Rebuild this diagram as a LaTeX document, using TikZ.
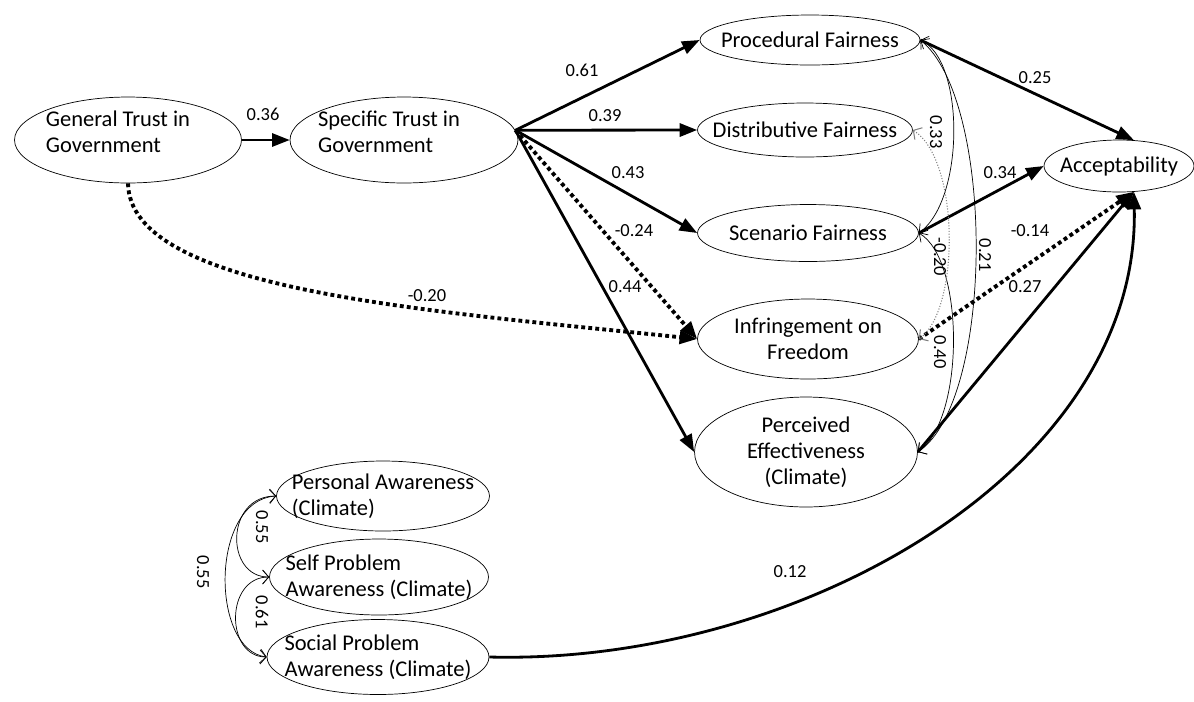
\documentclass[tikz,border=0pt]{standalone}
\usepackage{fontspec}
\setmainfont{Carlito}
\usetikzlibrary{shapes.geometric,arrows.meta}

\begin{document}
\begin{tikzpicture}[x=0.02cm, y=-0.02cm,
    vtext/.style={font=\fontsize{12.8}{14.8}\selectfont},
    var/.style={draw, ellipse, thin, inner sep=-1.5cm, vtext},
    coef/.style={font=\fontsize{10.5}{12}\selectfont},
    effect/.style={line width=1.6pt, -{Triangle[length=10pt,width=7.5pt]}},
    effdot/.style={effect, line width=2.2pt, dash pattern=on 2.2pt off 1.8pt},
    cov/.style={thin, {Straight Barb[length=3.5pt,width=8pt]}-{Straight Barb[length=3.5pt,width=8pt]}}]
    \useasboundingbox (0,0) rectangle (1194,701);

    % Trust
    \node[var, minimum width=4.54cm, minimum height=1.72cm,
        label={[vtext, align=left, xshift=-0.2cm, yshift=0.17cm]center:General Trust in\\Government}] (gt) at (128,140) {};
    \node[var, minimum width=4.56cm, minimum height=1.72cm,
        label={[vtext, align=left, xshift=-0.3cm, yshift=0.17cm]center:Specific Trust in\\Government}] (st) at (404,140) {};

    % Mediators
    \node[var, minimum width=4.4cm, minimum height=1cm] (proc) at (810,40) {Procedural Fairness};
    \node[var, minimum width=4.3cm, minimum height=1.08cm] (dist) at (805,130) {Distributive Fairness};
    \node[var, minimum width=4.42cm, minimum height=1.14cm] (scen) at (808,233) {Scenario Fairness};
    \node[var, minimum width=4.42cm, minimum height=1.6cm, align=center] (infr) at (808,339) {Infringement on\\Freedom};
    \node[var, minimum width=4.46cm, minimum height=2.2cm, align=center] (perc) at (806,452) {Perceived\\Effectiveness\\(Climate)};
    \node[var, minimum width=3cm, minimum height=1.04cm] (acc) at (1119,166) {Acceptability};

    % Awareness
    \node[var, minimum width=4.26cm, minimum height=1.4cm, align=left] (pers) at (383,496) {Personal Awareness\\(Climate)};
    \node[var, minimum width=4.38cm, minimum height=1.52cm, align=left] (self) at (379,577) {Self Problem\\Awareness (Climate)};
    \node[var, minimum width=4.44cm, minimum height=1.5cm, align=left] (soc) at (378,657) {Social Problem\\Awareness (Climate)};

    % Paths
    \draw[effect, line width=1.3pt] (gt) -- (st);
    \node[coef] at (263,114) {0.36};
    \foreach \to/\val/\lx/\ly in {proc/0.61/582/70, dist/0.39/605/116, scen/0.43/628/173, perc/0.44/625/287} {
        \draw[effect] (st.5) -- (\to.west);
        \node[coef] at (\lx,\ly) {\val};
    }
    \draw[effdot] (st.5) -- (infr.west);
    \node[coef] at (634,231) {-0.24};
    \draw[effdot] (gt.south) .. controls (130,290) and (420,310) .. (infr.west);
    \node[coef] at (427,296) {-0.20};

    \draw[effect] (proc.east) -- (acc.60);
    \node[coef] at (1035,78) {0.25};
    \draw[effect] (scen.east) -- (acc.west);
    \node[coef] at (1000,173) {0.34};
    \draw[effdot] (infr.east) -- (acc.-60);
    \node[coef] at (1030,231) {-0.14};
    \draw[effect] (perc.east) -- (acc.-60);
    \node[coef] at (1025,287) {0.27};
    \draw[effect] (soc.east) .. controls (800,665) and (1140,470) .. (acc.-60);
    \node[coef] at (790,572) {0.12};

    % Correlations
    \draw[cov] (proc.east) .. controls (965,60) and (965,200) .. (scen.east);
    \draw[cov] (proc.east) .. controls (995,100) and (995,400) .. (perc.east);
    \draw[cov] (scen.east) .. controls (965,260) and (965,420) .. (perc.east);
    \draw[cov, line width=0.6pt, densely dotted, gray] (dist.east) .. controls (960,160) and (960,310) .. (infr.east);
    \foreach \val/\lx/\ly in {0.33/936/132, -0.20/940/257, 0.21/985/255, 0.40/940/352} {
        \node[coef, rotate=-90] at (\lx,\ly) {\val};
    }

    \draw[cov] (pers.west) .. controls (225,496) and (225,577) .. (self.west);
    \draw[cov] (self.west) .. controls (225,577) and (225,657) .. (soc.west);
    \draw[cov] (pers.west) .. controls (210,500) and (210,650) .. (soc.west);
    \node[coef, rotate=-90] at (262,527) {0.55};
    \node[coef, rotate=-90] at (262,612) {0.61};
    \node[coef, rotate=-90] at (203,572) {0.55};
\end{tikzpicture}
\end{document}
